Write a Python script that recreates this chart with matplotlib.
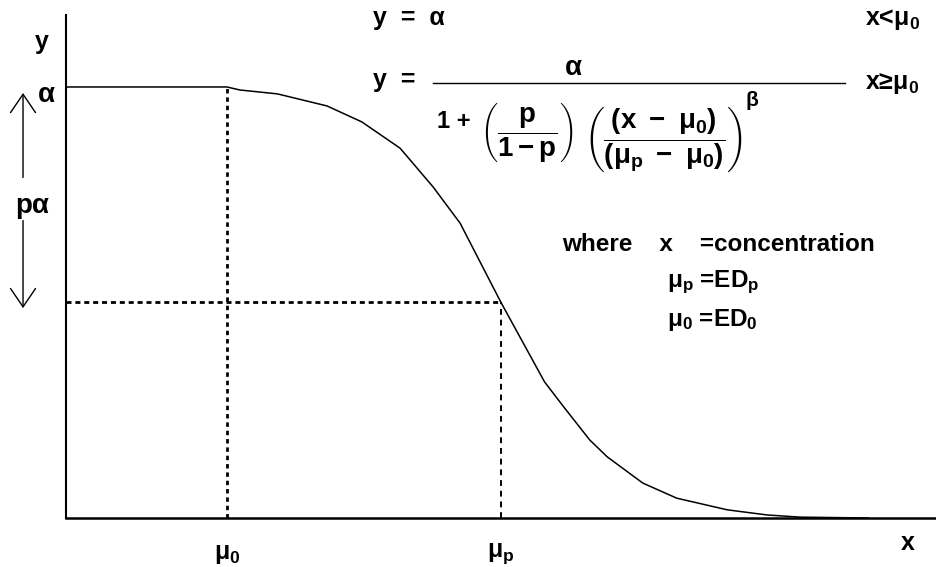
import numpy as np
import matplotlib
matplotlib.use('Agg')
import matplotlib.pyplot as plt
from matplotlib.lines import Line2D

# dose-response curve (x = concentration, y = response)
conc = [0.0, 1.85, 2.0, 2.43, 3.0, 3.4, 3.84, 4.22, 4.53, 5.0, 5.5, 5.72,
        6.02, 6.22, 6.63, 7.02, 7.6, 8.06, 8.44, 9.22]
resp = [1.0, 1.0, 0.993, 0.984, 0.956, 0.919, 0.858, 0.768, 0.684, 0.5, 0.316,
        0.258, 0.181, 0.142, 0.081, 0.046, 0.019, 0.007, 0.002, 0.0]

alpha = 1.0
p = 0.5
mu0 = 1.85
mu_p = 5.0

plt.rcParams['font.family'] = ['Liberation Sans', 'DejaVu Sans']
plt.rcParams['font.weight'] = 'bold'
plt.rcParams['mathtext.fontset'] = 'custom'
plt.rcParams['mathtext.rm'] = 'Liberation Sans:bold'
plt.rcParams['mathtext.it'] = 'Liberation Sans:bold'
plt.rcParams['mathtext.bf'] = 'Liberation Sans:bold'
plt.rcParams['mathtext.sf'] = 'Liberation Sans:bold'

W, H = 936, 567
fig = plt.figure(figsize=(W / 100, H / 100), dpi=100)
ax = fig.add_axes([66 / W, 49 / H, 870 / W, 503 / H])


def fx(x):
    return x / W


def fy(y):
    return 1 - y / H


fs = 17

ax.plot(conc, resp, color='black', lw=1.1)

# guide lines at mu0 and mu_p
ax.plot([mu0, mu0], [0, alpha], color='black', lw=2.0, linestyle=(0, (1.6, 1.4)))
ax.plot([0, mu_p], [p * alpha, p * alpha], color='black', lw=2.0, linestyle=(0, (1.8, 1.4)))
ax.plot([mu_p, mu_p], [0, p * alpha], color='black', lw=1.4, linestyle=(0, (3, 2.5)))

ax.set_xlim(0, 10)
ax.set_ylim(0, 1.167)
for side in ['top', 'right']:
    ax.spines[side].set_visible(False)
ax.spines['left'].set_linewidth(1.5)
ax.spines['bottom'].set_linewidth(1.8)
ax.set_yticks([])
ax.set_xticks([mu0, mu_p], ['μ$_0$', 'μ$_p$'])
ax.tick_params(axis='x', length=0, pad=17, labelsize=fs + 1)

# arrows showing the drop p*alpha
arrow = dict(arrowstyle='->,head_length=1.1,head_width=0.75', lw=1.0,
             shrinkA=0, shrinkB=0, mutation_scale=12)
ax.annotate('', xy=(-0.494, 0.986), xytext=(-0.494, 0.79),
            arrowprops=arrow, annotation_clip=False)
ax.annotate('', xy=(-0.494, 0.487), xytext=(-0.494, 0.69),
            arrowprops=arrow, annotation_clip=False)

fig.text(fx(42), fy(42), 'y', fontsize=fs + 1, ha='center', va='center')
fig.text(fx(46), fy(95), 'α', fontsize=fs + 3, ha='center', va='center')
fig.text(fx(32), fy(206), 'pα', fontsize=fs + 3, ha='center', va='center')
fig.text(fx(908), fy(543), 'x', fontsize=fs + 1, ha='center', va='center')

# model equations
fig.text(fx(373), fy(18), 'y  =  α', fontsize=fs + 1, ha='left', va='center')
fig.text(fx(865), fy(20), 'x<μ$_0$', fontsize=fs + 1, ha='left', va='center')
fig.text(fx(373), fy(80), 'y  =', fontsize=fs + 1, ha='left', va='center')
fig.text(fx(573), fy(68), 'α', fontsize=fs + 3, ha='center', va='center')
fig.add_artist(Line2D([fx(433), fx(845)], [fy(83), fy(83)], transform=fig.transFigure,
                      color='black', lw=1.0))
fig.text(fx(865), fy(84), 'x≥μ$_0$', fontsize=fs + 1, ha='left', va='center')

# denominator
fig.text(fx(437), fy(122), '1 +', fontsize=fs, ha='left', va='center')
fig.text(fx(527), fy(132), r'$\left(\dfrac{p}{1-p}\right)$',
         fontsize=fs + 3, ha='center', va='center')
fig.text(fx(663), fy(139), r'$\left(\dfrac{(x\ -\ \mu_{0})}{(\mu_{p}\ -\ \mu_{0})}\right)$',
         fontsize=fs + 3, ha='center', va='center')
fig.text(fx(752), fy(100), 'β', fontsize=fs - 2, ha='center', va='center')

fig.text(fx(562), fy(245), 'where    x    =concentration', fontsize=fs + 0.5, ha='left', va='center')
fig.text(fx(667), fy(282), 'μ$_p$ =ED$_p$', fontsize=fs + 0.5, ha='left', va='center')
fig.text(fx(667), fy(320), 'μ$_0$ =ED$_0$', fontsize=fs + 0.5, ha='left', va='center')

fig.savefig('out.png', dpi=100)
